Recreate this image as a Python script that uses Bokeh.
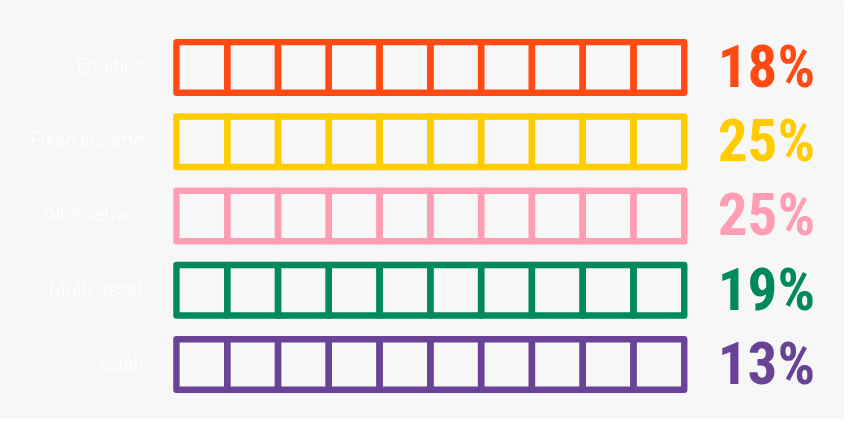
from bokeh.plotting import figure
from bokeh.models import ColumnDataSource, Range1d
from bokeh.core.properties import value
from bokeh.embed import file_html
from bokeh.resources import INLINE

categories = ["Equities", "Fixed income", "Alternatives", "Multi-asset", "Cash"]
percent_values = [18, 25, 25, 19, 13]
percent_labels = ["18%", "25%", "25%", "19%", "13%"]
colors = ["#ff4a14", "#ffcc00", "#ff9db5", "#00895a", "#684396"]
boxes_per_row = 10

BG = "#f7f7f7"

p = figure(width=844, height=419, output_backend="svg", toolbar_location=None,
           x_range=Range1d(-3.465, 13.156), y_range=Range1d(4.74, -0.901),
           min_border=0, background_fill_color=BG, border_fill_color=BG)
p.outline_line_color = None
p.axis.visible = False
p.grid.visible = False

cx, cy, cc = [], [], []
for r, col in enumerate(colors):
    for i in range(boxes_per_row):
        cx.append(i + 0.5)
        cy.append(r)
        cc.append(col)
cells = ColumnDataSource(dict(x=cx, y=cy, c=cc))
p.rect(x="x", y="y", width=1, height=0.68, source=cells, fill_color=None,
       line_color="c", line_width=6.4, line_join="round")

rows = list(range(len(categories)))
lab = ColumnDataSource(dict(x=[-0.644] * len(rows), y=rows, t=categories))
p.text(x="x", y="y", text="t", source=lab, text_align="right", text_baseline="middle",
       text_color="#ffffff", text_font_size="19.5px",
       text_font=value("Roboto Light, Roboto, sans-serif"), y_offset=-1)

pct = ColumnDataSource(dict(x=[10.66] * len(rows), y=rows, t=percent_labels, c=colors))
p.text(x="x", y="y", text="t", source=pct, text_align="left", text_baseline="middle",
       text_color="c", text_font_size="59px", text_font_style="bold",
       text_font=value("Roboto Condensed"), y_offset=-1)

open("out.html", "w").write(file_html(p, INLINE))
